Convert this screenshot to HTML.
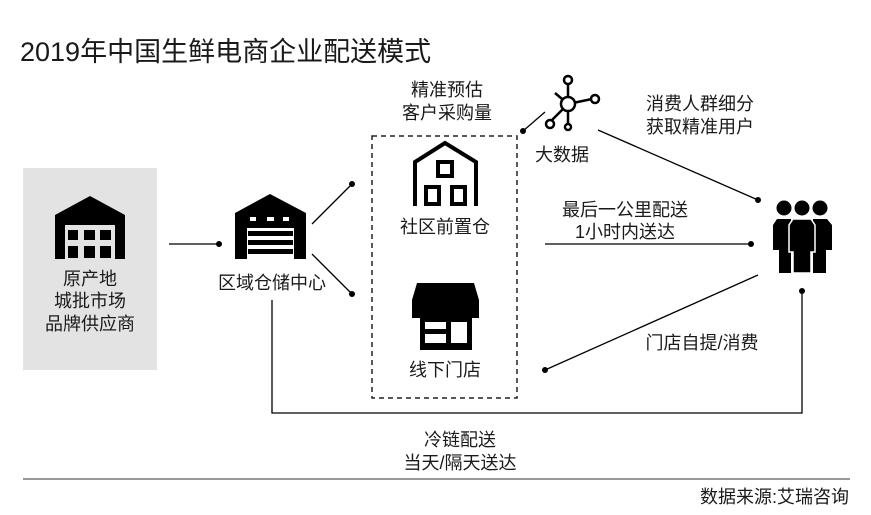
<!DOCTYPE html>
<html><head><meta charset="utf-8"><style>
body{margin:0;background:#fff;}
svg{display:block;font-family:"Liberation Sans","Noto Sans CJK SC",sans-serif;}
text{fill:#1a1a1a;}
</style></head><body>
<svg width="871" height="515" viewBox="0 0 871 515" xmlns="http://www.w3.org/2000/svg">
<rect width="871" height="515" fill="#fff"/>
<text x="20" y="61" font-size="27">2019年中国生鲜电商企业配送模式</text>

<rect x="23" y="168" width="134" height="202" fill="#e3e3e3"/>
<path d="M55 215 L90 196 L125 215 L125 259 L115 259 L115 225 L65 225 L65 259 L55 259 Z" fill="#000"/>
<g fill="#000">
<rect x="68" y="230" width="10" height="10"/><rect x="84" y="230" width="11" height="10"/><rect x="100" y="230" width="11" height="10"/>
<rect x="68" y="246" width="10" height="12"/><rect x="84" y="246" width="11" height="12"/><rect x="100" y="246" width="11" height="12"/>
</g>
<g font-size="18" text-anchor="middle">
<text x="90" y="285">原产地</text>
<text x="90" y="307">城批市场</text>
<text x="90" y="330">品牌供应商</text>
</g>

<line x1="169" y1="244" x2="219" y2="244" stroke="#000" stroke-width="1.3"/>
<circle cx="219" cy="244" r="3" fill="#000"/>

<path d="M235 213 L270 194 L306 213 L306 259 L294 259 L294 228 L247 228 L247 259 L235 259 Z" fill="#000"/>
<rect x="250" y="217" width="6" height="4" fill="#fff"/><rect x="267" y="217" width="7" height="4" fill="#fff"/><rect x="283" y="217" width="6" height="4" fill="#fff"/>
<g fill="#000"><rect x="248" y="231" width="45" height="5"/><rect x="248" y="240" width="45" height="5"/><rect x="248" y="249" width="45" height="5"/></g>
<text x="272" y="289" font-size="18" text-anchor="middle">区域仓储中心</text>

<g stroke="#000" stroke-width="1.3">
<line x1="312" y1="224" x2="352" y2="184"/>
<line x1="312" y1="254" x2="352" y2="294"/>
</g>
<circle cx="352" cy="184" r="3" fill="#000"/><circle cx="352" cy="294" r="3" fill="#000"/>

<rect x="372" y="136" width="145" height="262" fill="none" stroke="#222" stroke-width="1.5" stroke-dasharray="5,4"/>

<path d="M415 206 L415 162 L445 143 L476 162 L476 206" fill="none" stroke="#000" stroke-width="4"/>
<rect x="438" y="162" width="14" height="14" fill="none" stroke="#000" stroke-width="4"/>
<rect x="426" y="187" width="13" height="17" fill="none" stroke="#000" stroke-width="4"/>
<rect x="452" y="187" width="13" height="17" fill="none" stroke="#000" stroke-width="4"/>
<text x="445" y="233" font-size="18" text-anchor="middle">社区前置仓</text>

<path d="M417 283 L474 283 L479 300 L479 318 L412 318 L412 300 Z" fill="#000"/>
<rect x="420" y="318" width="52" height="32" fill="#000"/>
<rect x="425" y="322" width="21" height="7" fill="#fff"/><rect x="425" y="334" width="21" height="9" fill="#fff"/><rect x="451" y="322" width="16" height="21" fill="#fff"/>
<text x="445" y="376" font-size="18" text-anchor="middle">线下门店</text>

<g font-size="18" text-anchor="middle">
<text x="447" y="96">精准预估</text>
<text x="447" y="119">客户采购量</text>
</g>
<line x1="523" y1="131" x2="545" y2="112" stroke="#000" stroke-width="1.3"/>
<circle cx="523" cy="131" r="3" fill="#000"/>

<g stroke="#000" stroke-width="2.5" fill="#fff">
<line x1="568" y1="104" x2="568" y2="83"/><line x1="568" y1="104" x2="592" y2="99"/>
<line x1="568" y1="104" x2="555" y2="93"/><line x1="568" y1="104" x2="550" y2="122"/>
<line x1="568" y1="104" x2="568" y2="126"/>
<circle cx="568" cy="104" r="7"/><circle cx="568" cy="80" r="4"/><circle cx="595" cy="99" r="4"/>
<circle cx="550" cy="124" r="4"/><circle cx="568" cy="127" r="3"/>
</g>
<text x="562" y="161" font-size="18" text-anchor="middle">大数据</text>

<g font-size="18" text-anchor="middle">
<text x="700" y="110">消费人群细分</text>
<text x="700" y="133">获取精准用户</text>
<text x="625" y="216">最后一公里配送</text>
<text x="625" y="238">1小时内送达</text>
<text x="702" y="349">门店自提/消费</text>
</g>

<g stroke="#000" stroke-width="1.3" fill="none">
<line x1="598" y1="130" x2="758" y2="200"/>
<line x1="545" y1="244" x2="751" y2="244"/>
<line x1="758" y1="275" x2="545" y2="370"/>
<polyline points="272,300 272,413 802,413 802,291"/>
</g>
<g fill="#000">
<circle cx="758" cy="200" r="3"/><circle cx="751" cy="244" r="3"/><circle cx="545" cy="370" r="3"/><circle cx="802" cy="291" r="3"/>
</g>

<g fill="#000">
<circle cx="784" cy="208" r="7.5"/><circle cx="802" cy="208" r="7.5"/><circle cx="820" cy="208" r="7.5"/>
<path d="M777 219 L791 219 L791 273 L779 273 L779 250 L773 250 L773 225 Z"/>
<path d="M813 219 L827 219 L832 225 L832 250 L826 250 L826 273 L813 273 Z"/>
<path d="M793 219 L811 219 L815 225 L815 252 L811 252 L811 273 L793 273 L793 252 L789 252 L789 225 Z" stroke="#fff" stroke-width="1.5"/>
</g>

<g font-size="18" text-anchor="middle">
<text x="460" y="446">冷链配送</text>
<text x="460" y="469">当天/隔天送达</text>
</g>
<line x1="23" y1="479" x2="850" y2="479" stroke="#333" stroke-width="1"/>
<text x="849" y="503" font-size="18" text-anchor="end">数据来源:艾瑞咨询</text>
</svg>
</body></html>
